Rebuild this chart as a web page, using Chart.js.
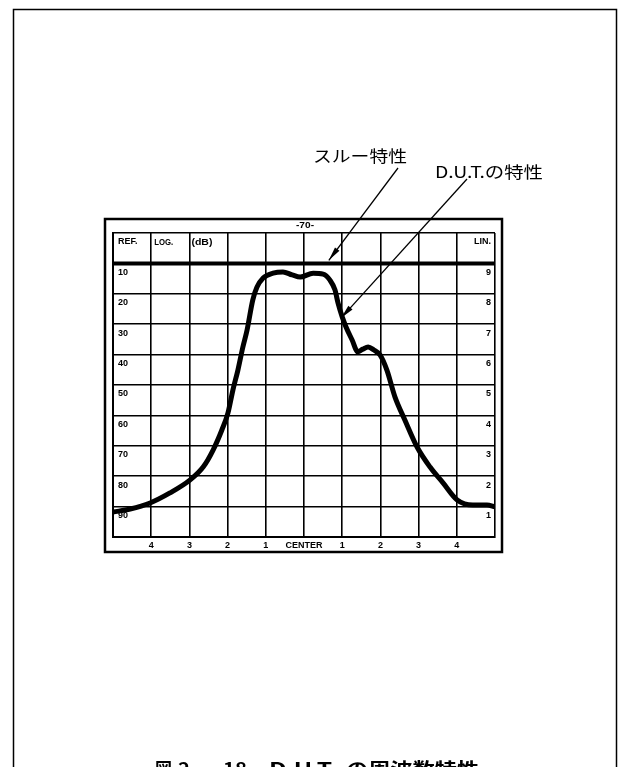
<!DOCTYPE html>
<html lang="ja">
<head>
<meta charset="utf-8">
<title>図2-18 D.U.T.の周波数特性</title>
<script src="https://cdn.jsdelivr.net/npm/chart.js@4.4.1/dist/chart.umd.min.js"></script>
<style>
  html, body { margin: 0; padding: 0; background: #fff; }
  canvas { display: block; }
</style>
</head>
<body>
<canvas id="chart-freq" width="621" height="767"></canvas>
<script>
/* ── DATA ── */
// 横軸・縦軸とも目盛 (div) 単位。横 5 = CENTER、縦 0 = 最下段
const xTickLabels = ['', '4', '3', '2', '1', 'CENTER', '1', '2', '3', '4', ''];
const logLabels   = ['', '90', '80', '70', '60', '50', '40', '30', '20', '10', 'REF.'];
const linLabels   = ['', '1', '2', '3', '4', '5', '6', '7', '8', '9', 'LIN.'];

// スルー特性 (基準線)
const throughX = [0, 10];
const throughY = [9, 9];

// D.U.T.の特性
const dutX = [0, 0.45, 0.97, 1.49, 2.02, 2.36, 2.62, 2.85, 3.01, 3.14,
              3.27, 3.40, 3.51, 3.66, 3.77, 3.93, 4.19, 4.45, 4.69, 4.90,
              5.24, 5.50, 5.68, 5.81, 5.89, 6.00, 6.10, 6.26, 6.41, 6.54,
              6.68, 6.83, 6.99, 7.17, 7.38, 7.64, 7.96, 8.30, 8.64, 9.01,
              9.42, 9.79, 10.0];
const dutY = [0.82, 0.92, 1.12, 1.45, 1.88, 2.30, 2.86, 3.52, 4.08, 4.84,
              5.49, 6.25, 6.81, 7.80, 8.22, 8.52, 8.68, 8.72, 8.62, 8.55,
              8.68, 8.65, 8.45, 8.13, 7.70, 7.24, 6.91, 6.48, 6.09, 6.18,
              6.25, 6.15, 5.99, 5.49, 4.61, 3.85, 2.96, 2.30, 1.78, 1.22,
              1.05, 1.05, 0.99];

/* ── STYLE ── */
const INK = '#000';
const TICK_FONT = { family: "'Liberation Sans', Arial, sans-serif", size: 9, weight: 'bold' };
const JP_FONT = "'Noto Sans CJK JP', 'Noto Sans', sans-serif";

/* ── UTILS ── */
// 文字列を指定幅に合わせて横方向に伸縮して描く
function fitText(ctx, text, x, y, width) {
  const w = ctx.measureText(text).width;
  ctx.save();
  ctx.translate(x, y);
  ctx.scale(width / w, 1);
  ctx.fillText(text, 0, 0);
  ctx.restore();
}

function drawArrow(ctx, x1, y1, x2, y2) {
  ctx.beginPath();
  ctx.moveTo(x1, y1);
  ctx.lineTo(x2, y2);
  ctx.lineWidth = 1.3;
  ctx.stroke();
  const ang = Math.atan2(y2 - y1, x2 - x1);
  const len = 14, w = 2.8;
  const bx = x2 - len * Math.cos(ang), by = y2 - len * Math.sin(ang);
  ctx.beginPath();
  ctx.moveTo(x2, y2);
  ctx.lineTo(bx + w * Math.sin(ang), by - w * Math.cos(ang));
  ctx.lineTo(bx - w * Math.sin(ang), by + w * Math.cos(ang));
  ctx.closePath();
  ctx.fill();
}

/* ── PAPER / ANNOTATION PLUGIN ── */
const paperPlugin = {
  id: 'paper',
  beforeDraw(chart) {
    const { ctx, chartArea: a } = chart;
    ctx.save();
    ctx.strokeStyle = INK;
    // 紙面の枠
    ctx.lineWidth = 1.5;
    ctx.strokeRect(13.5, 9.5, 603, 800);
    // 画面の外枠
    ctx.lineWidth = 2.5;
    ctx.strokeRect(a.left - 8, a.top - 14, a.width + 15, a.height + 29);
    ctx.restore();
  },
  afterDraw(chart) {
    const { ctx, chartArea: a, scales: { x, y } } = chart;
    ctx.save();
    ctx.fillStyle = INK;
    ctx.strokeStyle = INK;

    // ヘッダー行の文字
    ctx.font = "bold 9px 'Liberation Sans', Arial, sans-serif";
    ctx.textBaseline = 'middle';
    ctx.textAlign = 'left';
    fitText(ctx, 'LOG.', x.getPixelForValue(1) + 3, a.top + 10, 19);
    fitText(ctx, '(dB)', x.getPixelForValue(2) + 2, a.top + 10, 21);
    fitText(ctx, '-70-', x.getPixelForValue(5) - 8, a.top - 7, 18);

    // 引き出し線
    drawArrow(ctx, 398, 168, x.getPixelForValue(5.65), y.getPixelForValue(9.1));
    drawArrow(ctx, 467, 179, x.getPixelForValue(5.97), y.getPixelForValue(7.2));

    ctx.textBaseline = 'alphabetic';
    ctx.font = `16px ${JP_FONT}`;
    fitText(ctx, 'スルー特性', 313, 162, 94);
    fitText(ctx, 'D.U.T.の特性', 435, 178, 108);

    // 図番号
    ctx.font = `bold 18px ${JP_FONT}`;
    fitText(ctx, '図', 155, 776, 17);
    fitText(ctx, '2', 178, 776, 12);
    fitText(ctx, '−', 199, 776, 13);
    fitText(ctx, '18', 223, 776, 24);
    fitText(ctx, 'D.U.T.', 269, 776, 68);
    fitText(ctx, 'の周波数特性', 346, 776, 133);
    ctx.restore();
  },
};

/* ── CHART ── */
const toPoints = (xs, ys) => xs.map((v, i) => ({ x: v, y: ys[i] }));

new Chart(document.getElementById('chart-freq').getContext('2d'), {
  type: 'line',
  data: {
    datasets: [
      {
        label: 'スルー特性',
        data: toPoints(throughX, throughY),
        borderColor: INK, borderWidth: 4, pointRadius: 0,
      },
      {
        label: 'D.U.T.の特性',
        data: toPoints(dutX, dutY),
        borderColor: INK, borderWidth: 5, pointRadius: 0,
        cubicInterpolationMode: 'monotone',
        borderCapStyle: 'round', borderJoinStyle: 'round',
      },
    ],
  },
  options: {
    responsive: false, animation: false, events: [],
    layout: { padding: { left: 113, right: 126, top: 233, bottom: 216 } },
    plugins: { legend: { display: false }, tooltip: { enabled: false } },
    scales: {
      x: {
        type: 'linear', min: 0, max: 10,
        afterFit: s => { s.height = 14; },
        ticks: { stepSize: 1, autoSkip: false, maxRotation: 0, padding: 3, color: INK,
                 font: TICK_FONT, callback: v => xTickLabels[v] },
        grid: { color: INK, lineWidth: 1.6, drawTicks: false },
        border: { color: INK, width: 2 },
      },
      y: {
        type: 'linear', position: 'left', min: 0, max: 10,
        afterFit: s => { s.width = 0; },
        ticks: { stepSize: 1, autoSkip: false, mirror: true, padding: 5, labelOffset: 9,
                 color: INK, font: TICK_FONT, callback: v => logLabels[v] },
        grid: { color: INK, lineWidth: 1.6, drawTicks: false },
        border: { color: INK, width: 2 },
      },
      yr: {
        type: 'linear', position: 'right', min: 0, max: 10,
        afterFit: s => { s.width = 0; },
        ticks: { stepSize: 1, autoSkip: false, mirror: true, padding: -4, labelOffset: 9,
                 color: INK, font: TICK_FONT, callback: v => linLabels[v] },
        grid: { display: false, drawTicks: false },
        border: { display: false },
      },
    },
  },
  plugins: [paperPlugin],
});
</script>
</body>
</html>
